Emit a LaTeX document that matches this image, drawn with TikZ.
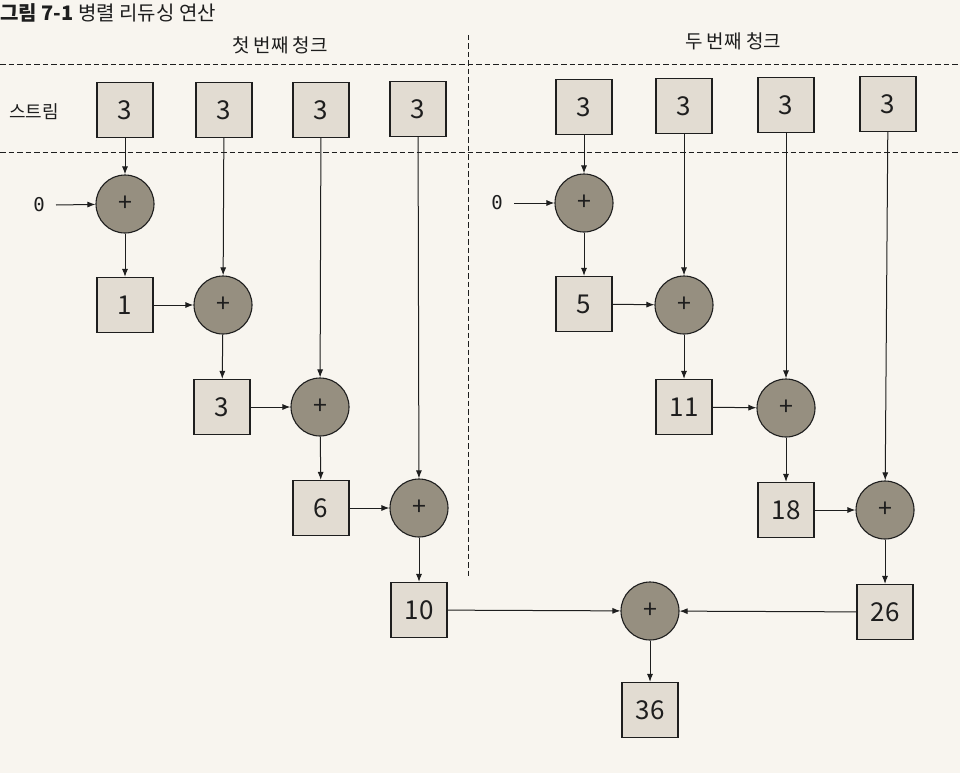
\documentclass[tikz,border=0pt]{standalone}
\usepackage{fontspec}
\setmainfont{Noto Sans CJK KR}
\newfontfamily\monofont{DejaVu Sans Mono}
\usetikzlibrary{arrows.meta}
\definecolor{pagebg}{RGB}{248,245,239}
\definecolor{boxfill}{RGB}{226,220,210}
\definecolor{circfill}{RGB}{150,143,128}
\definecolor{inkc}{RGB}{30,30,30}
\tikzset{
  valbox/.style={draw=inkc, line width=1.1pt, fill=boxfill, minimum width=56pt, minimum height=55pt, inner sep=0pt, font=\fontsize{26}{28}\selectfont, text=inkc},
  plus/.style={draw=inkc, line width=1.1pt, fill=circfill, circle, minimum size=58pt, inner sep=0pt, font=\fontsize{25}{27}\selectfont, text=inkc},
  zerolab/.style={font=\monofont\fontsize{19}{21}\selectfont, text=inkc, inner sep=0pt},
  flow/.style={draw=inkc, line width=1pt, -{Latex[length=8pt,width=6pt]}},
  divider/.style={draw=inkc, line width=1pt, dash pattern=on 5.5pt off 3pt},
  chunklab/.style={font=\fontsize{19}{21}\selectfont, text=inkc},
}
\begin{document}
\begin{tikzpicture}[x=1pt,y=-1pt]
\useasboundingbox (0,0) rectangle (960,773);
\fill[pagebg] (0,0) rectangle (960,773);

% title
\node[anchor=west, text=inkc, font=\fontsize{20}{22}\selectfont, inner sep=0pt] (title) at (0,13) {\textbf{그림 7-1} 병렬 리듀싱 연산};

% chunk labels
\node[chunklab] (chunk1) at (280,45) {첫 번째 청크};
\node[chunklab] (chunk2) at (733,41) {두 번째 청크};
\node[chunklab, font=\fontsize{18}{20}\selectfont, anchor=west, inner sep=0pt] (streamlab) at (9,112) {스트림};

% dividers
\coordinate (hl1a) at (0,65); \coordinate (hl1b) at (960,65);
\coordinate (hl2a) at (0,152); \coordinate (hl2b) at (960,152);
\coordinate (vla) at (468,35); \coordinate (vlb) at (468,577);
\path[divider] (hl1a) -- (hl1b);
\path[divider] (hl2a) -- (hl2b);
\path[divider] (vla) -- (vlb);

% stream elements
\node[valbox] (s1) at (125,110) {3};
\node[valbox] (s2) at (224,110) {3};
\node[valbox] (s3) at (321,110) {3};
\node[valbox] (s4) at (418,109) {3};
\node[valbox] (s5) at (584,107) {3};
\node[valbox] (s6) at (684,106) {3};
\node[valbox] (s7) at (786,105) {3};
\node[valbox] (s8) at (888,104) {3};

% first chunk
\node[zerolab] (z1) at (39,205) {0};
\node[plus] (c1) at (125,204) {+};
\node[valbox] (b1) at (125,305) {1};
\node[plus] (c2) at (223,305) {+};
\node[valbox] (b3) at (222,407) {3};
\node[plus] (c3) at (320,407) {+};
\node[valbox] (b6) at (321,508) {6};
\node[plus] (c4) at (419,508) {+};
\node[valbox] (b10) at (419,610) {10};

% second chunk
\node[zerolab] (z2) at (497,203) {0};
\node[plus] (d1) at (584,203) {+};
\node[valbox] (b5) at (584,304) {5};
\node[plus] (d2) at (684,305) {+};
\node[valbox] (b11) at (684,407) {11};
\node[plus] (d3) at (786,408) {+};
\node[valbox] (b18) at (786,510) {18};
\node[plus] (d4) at (885,510) {+};
\node[valbox] (b26) at (885,612) {26};

% final
\node[plus] (cf) at (650,611) {+};
\node[valbox] (b36) at (650,710) {36};

% free ends of the zero arrows
\coordinate (z1s) at (56,205);
\coordinate (z2s) at (514,203);

% connectors first chunk
\path[flow] (s1) -- (c1);
\path[flow] (z1s) -- (c1);
\path[flow] (c1) -- (b1);
\path[flow] (b1) -- (c2);
\path[flow] (s2) -- (c2);
\path[flow] (c2) -- (b3);
\path[flow] (b3) -- (c3);
\path[flow] (s3) -- (c3);
\path[flow] (c3) -- (b6);
\path[flow] (b6) -- (c4);
\path[flow] (s4) -- (c4);
\path[flow] (c4) -- (b10);

% connectors second chunk
\path[flow] (s5) -- (d1);
\path[flow] (z2s) -- (d1);
\path[flow] (d1) -- (b5);
\path[flow] (b5) -- (d2);
\path[flow] (s6) -- (d2);
\path[flow] (d2) -- (b11);
\path[flow] (b11) -- (d3);
\path[flow] (s7) -- (d3);
\path[flow] (d3) -- (b18);
\path[flow] (b18) -- (d4);
\path[flow] (s8) -- (d4);
\path[flow] (d4) -- (b26);

% final
\path[flow] (b10) -- (cf);
\path[flow] (b26) -- (cf);
\path[flow] (cf) -- (b36);
\end{tikzpicture}
\end{document}
